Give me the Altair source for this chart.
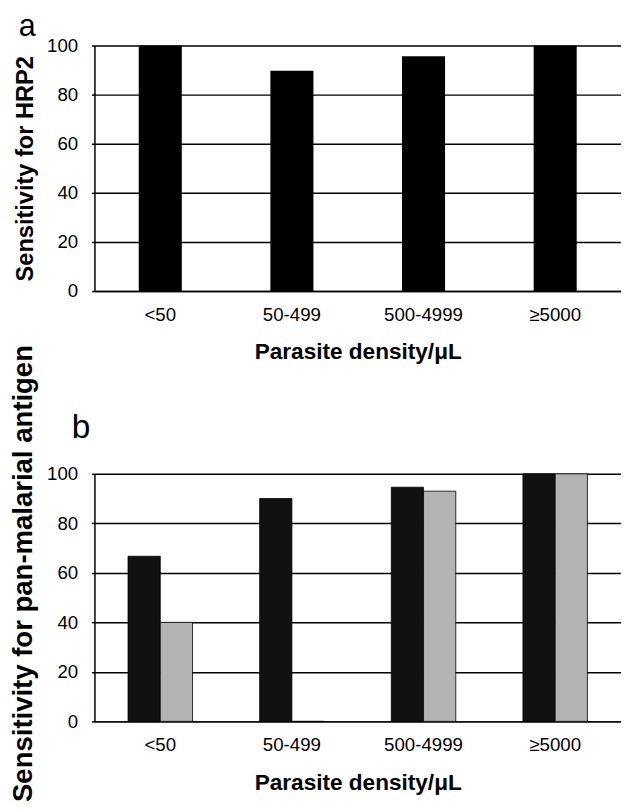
import altair as alt
import pandas as pd

categories = ["<50", "50-499", "500-4999", "≥5000"]
hrp2_values = [100, 89.7, 95.6, 100]
pan_dark_values = [66.7, 90.0, 94.6, 100]
pan_light_values = [40.0, 0.0, 93.0, 100]
series_names = ["dark", "light"]
series_colors = ["#111111", "#b3b3b3"]
y_ticks = [0, 20, 40, 60, 80, 100]

FONT = "Liberation Sans"

df_a = pd.DataFrame({"density": categories, "sens": hrp2_values})
rows = []
for c, d, l in zip(categories, pan_dark_values, pan_light_values):
    rows.append({"density": c, "series": series_names[0], "sens": d})
    rows.append({"density": c, "series": series_names[1], "sens": l})
df_b = pd.DataFrame(rows)


def x_axis():
    return alt.Axis(title="Parasite density/μL", labelAngle=0, ticks=False, grid=False,
                    labelFontSize=19, labelPadding=15, labelColor="black",
                    titleFontSize=23, titleFontWeight="bold", titlePadding=17,
                    titleColor="black", domainColor="black", domainWidth=1.5)


def y_axis(title, tsize, title_y=None):
    kw = dict(title=title, values=y_ticks, grid=True, gridColor="black", gridWidth=1.5,
              tickColor="black", tickSize=3, tickWidth=1.5, labelFontSize=19,
              labelPadding=14, labelColor="black", titleFontSize=tsize,
              titleFontWeight="bold", titlePadding=9, titleColor="black",
              domainColor="black", domainWidth=1.5)
    if title_y is not None:
        kw["titleY"] = title_y
    return alt.Axis(**kw)


a = alt.Chart(df_a).mark_bar(color="black").encode(
    x=alt.X("density:N", sort=categories,
            scale=alt.Scale(paddingInner=0.673, paddingOuter=0.3365), axis=x_axis()),
    y=alt.Y("sens:Q", scale=alt.Scale(domain=[0, 100]),
            axis=y_axis("Sensitivity for HRP2", 24)),
).properties(
    width=536, height=250,
    title=alt.TitleParams("a", anchor="start", frame="group", dx=-77, offset=-6,
                          fontSize=31, fontWeight="normal", font=FONT, color="black"),
)

b = alt.Chart(df_b).mark_bar(stroke="black", strokeWidth=0.8).encode(
    x=alt.X("density:N", sort=categories,
            scale=alt.Scale(paddingInner=0.51, paddingOuter=0.255), axis=x_axis()),
    xOffset=alt.XOffset("series:N", sort=series_names),
    y=alt.Y("sens:Q", scale=alt.Scale(domain=[0, 100]),
            axis=y_axis("Sensitivity for pan-malarial antigen", 28, 101)),
    color=alt.Color("series:N", scale=alt.Scale(domain=series_names, range=series_colors),
                    legend=None),
).properties(
    width=536, height=252,
    title=alt.TitleParams("b", anchor="start", frame="group", dx=-23, offset=-102,
                          fontSize=34, fontWeight="normal", font=FONT, color="black"),
)

chart = alt.vconcat(a, b, spacing=186, bounds="flush").properties(
    padding={"left": 2, "top": -4, "right": 0, "bottom": 0}
).configure(font=FONT).configure_view(stroke=None).configure_axis(
    labelFont=FONT, titleFont=FONT
)

chart.save("out.html", embed_options={"renderer": "svg", "actions": False})
